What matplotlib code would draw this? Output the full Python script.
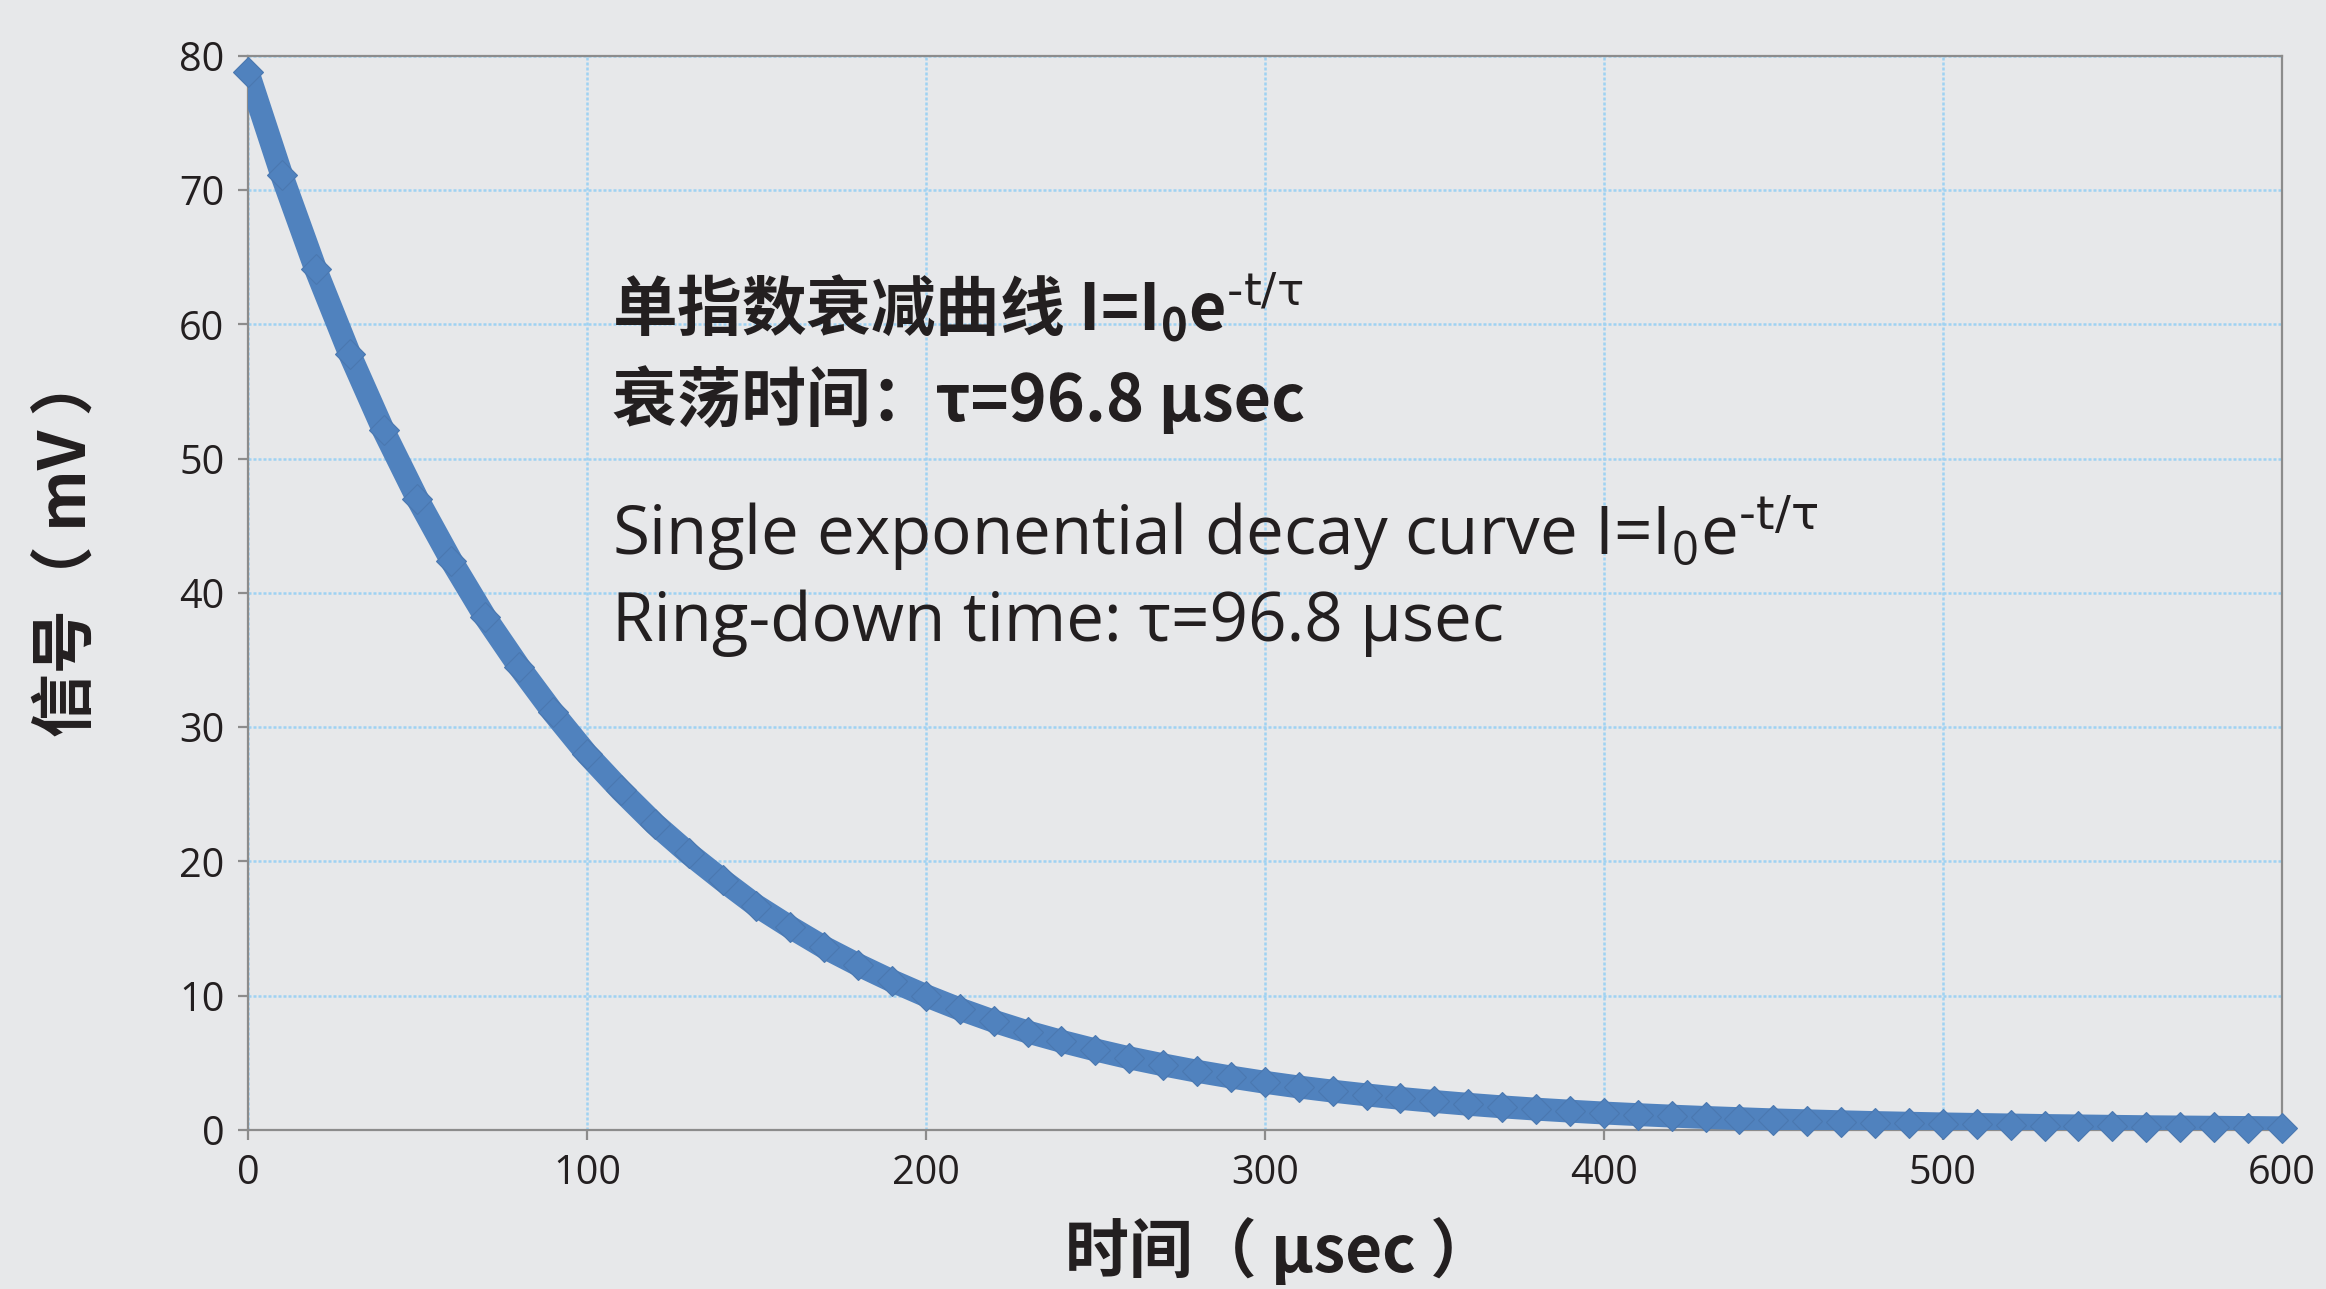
import matplotlib
matplotlib.use("Agg")
import matplotlib.pyplot as plt

# time axis in usec and decay signal in mV, every 10 usec
time_us = [0, 10, 20, 30, 40, 50, 60, 70, 80, 90,
           100, 110, 120, 130, 140, 150, 160, 170, 180, 190,
           200, 210, 220, 230, 240, 250, 260, 270, 280, 290,
           300, 310, 320, 330, 340, 350, 360, 370, 380, 390,
           400, 410, 420, 430, 440, 450, 460, 470, 480, 490,
           500, 510, 520, 530, 540, 550, 560, 570, 580, 590, 600]
signal_mv = [78.8, 71.1, 64.1, 57.8, 52.1, 47.0, 42.4, 38.2, 34.5, 31.1,
             28.0, 25.3, 22.8, 20.6, 18.6, 16.7, 15.1, 13.6, 12.3, 11.1,
             10.0, 9.0, 8.1, 7.3, 6.6, 5.96, 5.37, 4.85, 4.37, 3.94,
             3.55, 3.20, 2.89, 2.61, 2.35, 2.12, 1.91, 1.72, 1.55, 1.40,
             1.26, 1.14, 1.03, 0.93, 0.84, 0.75, 0.68, 0.61, 0.55, 0.50,
             0.45, 0.41, 0.37, 0.33, 0.30, 0.27, 0.24, 0.22, 0.20, 0.18, 0.16]

xticks = [0, 100, 200, 300, 400, 500, 600]
yticks = [0, 10, 20, 30, 40, 50, 60, 70, 80]

title_cn = [r"单指数衰减曲线 I=I$_0$e$^{\text{-t/τ}}$", "衰荡时间：τ=96.8 μsec"]
title_en = [r"Single exponential decay curve I=I$_0$e$^{\text{-t/τ}}$",
            "Ring-down time: τ=96.8 μsec"]
xlabel = "时间（ μsec ）"
ylabel = "信号（ mV ）"

bg = "#e7e8ea"
blue = "#5082be"
gridc = "#9fd2f2"
spinec = "#8c8c8c"
ink = "#231f20"

plt.rcParams["mathtext.fontset"] = "custom"
plt.rcParams["mathtext.default"] = "regular"

fig = plt.figure(figsize=(23.26, 12.89), dpi=100, facecolor=bg)
ax = fig.add_axes([0.1066, 0.1234, 0.8744, 0.8332], facecolor=bg)

# thick band with diamond markers on top, like the dense excel scatter
ax.plot(time_us, signal_mv, color=blue, lw=16.5, solid_capstyle="butt",
        solid_joinstyle="round", zorder=3)
ax.plot(time_us, signal_mv, ls="none", marker="D", ms=15,
        mfc=blue, mec="#4a78b0", mew=0.8, zorder=4, clip_on=False)

ax.set_xlim(0, 600)
ax.set_ylim(0, 80)
ax.set_xticks(xticks)
ax.set_yticks(yticks)
ax.grid(True, color=gridc, ls=(0, (1.2, 0.8)), lw=1.8, zorder=1)
for s in ax.spines.values():
    s.set_color(spinec)
    s.set_linewidth(1.6)
ax.tick_params(direction="out", length=7, width=1.6, color=spinec,
               labelsize=28.5, labelcolor=ink, pad=10)
for lab in ax.get_xticklabels() + ax.get_yticklabels():
    lab.set_fontfamily("Open Sans")

ax.text(0.179, 0.766, title_cn[0], transform=ax.transAxes, fontsize=46.5,
        fontweight="bold", family="Noto Sans CJK SC", color=ink,
        va="center", ha="left")
ax.text(0.179, 0.679, title_cn[1], transform=ax.transAxes, fontsize=46.5,
        fontweight="bold", family="Noto Sans CJK SC", color=ink,
        va="center", ha="left")
ax.text(0.179, 0.535, title_en[0], transform=ax.transAxes, fontsize=48.5,
        family="Open Sans", color=ink, va="baseline", ha="left")
ax.text(0.179, 0.455, title_en[1], transform=ax.transAxes, fontsize=48.5,
        family="Open Sans", color=ink, va="baseline", ha="left")

fig.text(0.550, 0.002, xlabel, fontsize=46, fontweight="bold",
         family="Noto Sans CJK SC", color=ink, ha="center", va="bottom")
fig.text(0.029, 0.578, ylabel, fontsize=46, fontweight="bold",
         family="Noto Sans CJK SC", color=ink, ha="center", va="center",
         rotation=90)

fig.savefig("out.png", dpi=100, facecolor=bg)
